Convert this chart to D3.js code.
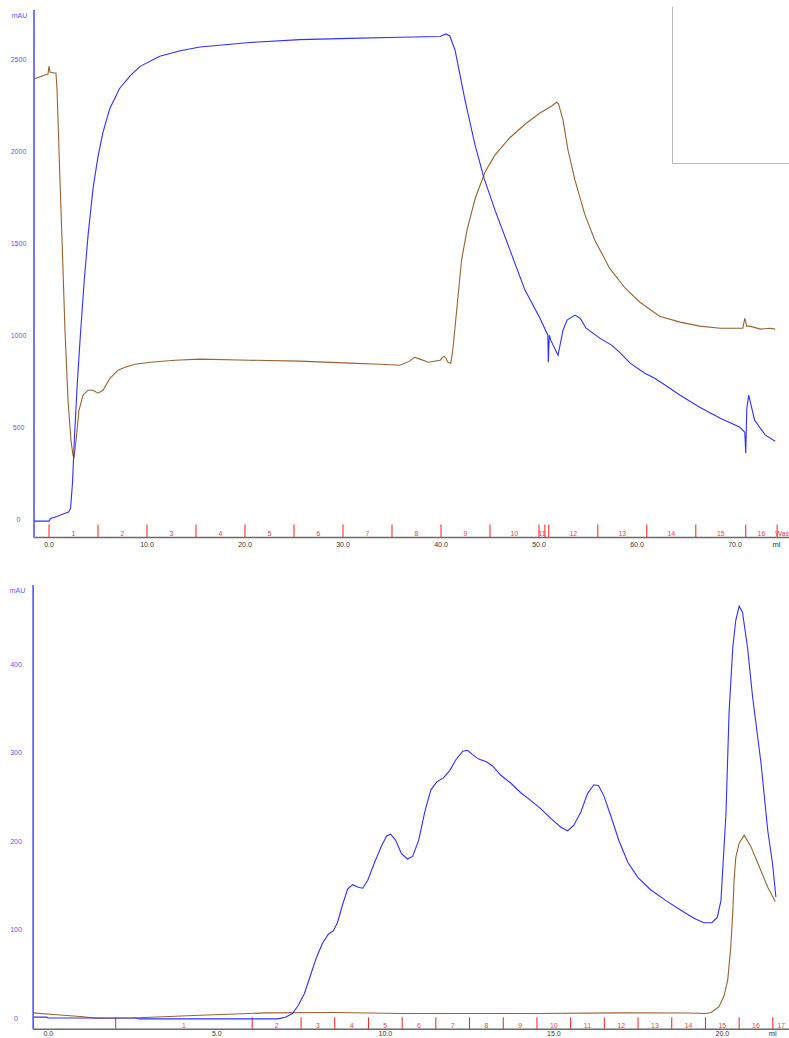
<!DOCTYPE html>
<html>
<head>
<meta charset="utf-8">
<script src="https://cdn.jsdelivr.net/npm/d3@7"></script>
<style>
  html, body { margin: 0; padding: 0; background: #fff; }
  svg { display: block; }
  text { font-family: "Liberation Sans", Arial, sans-serif; }
</style>
</head>
<body>
<svg id="chart" width="789" height="1038"></svg>
<script>
// ---- Run 1: full run, UV (blue) and conductivity-type trace (brown) ----
const topUv = [
  [-1.53,-10],[0,-10],[0.15,5],[0.8,15],[1.5,30],[2.0,40],[2.2,60],[2.4,200],[2.6,450],
  [2.9,750],[3.2,1000],[3.6,1300],[4.0,1550],[4.5,1800],[5.0,1970],[5.5,2100],[6.2,2230],
  [7.2,2340],[8.3,2410],[9.3,2460],[11.3,2515],[13.4,2545],[15.4,2565],[20.5,2590],
  [25.6,2605],[30.7,2612],[35.8,2618],[39.9,2622],[40.5,2636],[40.9,2625],[41.43,2549],
  [42.45,2277],[43.47,2033],[44.39,1853],[45.51,1679],[47.04,1462],[48.57,1245],[50.1,1092],
  [50.9,1000],[50.95,853],[51.05,1000],[51.2,973],[51.94,891],[52.45,1027],[52.86,1082],
  [53.67,1109],[54.2,1092],[54.8,1038],[56.2,984],[57.4,946],[58.2,908],[59.3,848],
  [60.8,793],[61.8,766],[62.9,728],[64.4,674],[66.4,609],[68.5,549],[70.5,500],[71.0,473],
  [71.1,359],[71.2,600],[71.4,674],[72.0,538],[73.1,457],[74.1,424]
];
const topCond = [
  [-1.53,2391],[-0.41,2413],[-0.1,2418],[0,2462],[0.1,2429],[0.51,2424],[0.71,2424],
  [0.82,2332],[0.92,2168],[1.12,1842],[1.33,1516],[1.63,1027],[1.94,647],[2.24,429],
  [2.45,348],[2.55,332],[2.76,429],[3.06,592],[3.47,674],[3.98,701],[4.49,701],[5.0,685],
  [5.51,701],[6.22,766],[7.04,810],[7.76,826],[8.78,842],[10.3,853],[12.86,864],[15.4,870],
  [20.5,864],[25.6,859],[30.7,848],[33.8,842],[35.8,837],[36.8,859],[37.3,880],[37.86,870],
  [38.7,853],[39.9,864],[40.3,886],[40.5,875],[40.7,853],[41.0,848],[41.2,918],[41.4,1027],
  [41.7,1190],[42.1,1408],[42.65,1571],[43.5,1745],[44.5,1886],[45.5,1978],[47.0,2071],
  [48.6,2147],[50.1,2207],[51.3,2245],[51.8,2266],[52.0,2255],[52.45,2168],[52.96,2005],
  [53.67,1842],[54.7,1652],[55.7,1516],[57.2,1364],[58.8,1255],[60.3,1179],[62.3,1103],
  [64.4,1071],[66.4,1049],[68.5,1038],[70.8,1038],[71.0,1092],[71.2,1049],[71.5,1049],
  [72.6,1033],[73.6,1038],[74.1,1033]
];
const topYTicks = [0, 500, 1000, 1500, 2000, 2500];
const topXTicks = [0, 10, 20, 30, 40, 50, 60, 70];
const topFracStarts = [0,5,10,15,20,25,30,35,40,45,50,50.6,51,56,61,66,71.1,74.3];
const topFracEnd = 75.9;
const topFracNames = ["1","2","3","4","5","6","7","8","9","10","11","","12","13","14","15","16","Waste"];

// ---- Run 2: elution detail ----
const botUv = [
  [-0.45,1.2],[-0.05,1.2],[0,0.3],[2.6,0.3],[2.7,-0.8],[6.8,-0.8],[7.04,1.1],[7.25,5.6],
  [7.42,14.7],[7.6,28],[7.78,48.6],[7.96,69],[8.14,85],[8.31,95],[8.46,99],[8.58,108],
  [8.73,128],[8.88,146],[9.03,151],[9.2,148],[9.33,147],[9.48,156],[9.68,176],[9.89,195],
  [10.04,206],[10.16,208],[10.31,201],[10.48,186],[10.66,180],[10.81,183],[10.99,201],
  [11.17,233],[11.35,258],[11.52,267],[11.73,272],[11.91,280],[12.09,292],[12.3,302],
  [12.44,303],[12.59,298],[12.77,293],[13.0,290],[13.19,285],[13.42,275],[13.72,266],
  [14.02,255],[14.32,246],[14.61,237],[14.91,226],[15.21,216],[15.41,212],[15.59,218],
  [15.8,233],[16.0,254],[16.19,264],[16.33,263],[16.48,252],[16.69,229],[16.93,201],
  [17.2,176],[17.5,159],[17.88,145],[18.33,133],[18.77,122],[19.16,113],[19.45,108],
  [19.69,108],[19.85,114],[19.96,133],[20.11,232],[20.2,345],[20.31,419],[20.4,450],
  [20.5,466],[20.6,459],[20.75,419],[20.9,363],[21.15,288],[21.35,212],[21.49,175],[21.59,137]
];
const botCond = [
  [-0.45,6],[0.15,4.2],[0.95,2.0],[1.45,0],[2.5,0.3],[4.5,3.4],[6.5,6],[8.5,6.4],[10.5,5.3],
  [14.5,5.3],[17.0,6],[19.0,5.8],[19.5,5.3],[19.67,6.5],[19.9,13],[20.05,25],[20.16,43],
  [20.25,80],[20.31,119],[20.35,156],[20.4,182],[20.5,198],[20.65,207],[20.85,194],
  [21.1,171],[21.35,148],[21.57,132]
];
const botYTicks = [0, 100, 200, 300, 400];
const botXTicks = [0, 5, 10, 15, 20];
const botFracStarts = [2.0,6.05,7.5,8.5,9.5,10.5,11.5,12.5,13.5,14.5,15.5,16.5,17.5,18.5,19.5,20.5,21.5];
const botFracEnd = 22.0;
const botFracNames = ["1","2","3","4","5","6","7","8","9","10","11","12","13","14","15","16","17"];

const svg = d3.select("#chart");
const COL_UV = "#2f2fff";
const COL_COND = "#9a6232";

function drawPanel(cfg) {
  const g = svg.append("g");
  const x = d3.scaleLinear().domain(cfg.xDomain).range(cfg.xRange);
  const y = d3.scaleLinear().domain(cfg.yDomain).range(cfg.yRange);
  const axisY = cfg.axisY; // pixel row of the x axis line
  const left = cfg.xRange[0] - (cfg.xRange[1] - cfg.xRange[0]) / (cfg.xDomain[1] - cfg.xDomain[0]) * (cfg.xDomain[0] - cfg.xStart);

  // fraction markers
  const fr = cfg.fracStarts.map((s, i) => ({
    s, e: i < cfg.fracStarts.length - 1 ? cfg.fracStarts[i + 1] : cfg.fracEnd, name: cfg.fracNames[i]
  }));
  g.selectAll("line.frac").data(fr).join("line").attr("class", "frac")
    .attr("x1", d => x(d.s)).attr("x2", d => x(d.s))
    .attr("y1", axisY - cfg.fracTick).attr("y2", axisY)
    .attr("stroke", "#ff1a1a").attr("stroke-width", 1);
  g.selectAll("text.frac").data(fr).join("text").attr("class", "frac")
    .attr("x", d => x((d.s + d.e) / 2)).attr("y", axisY - 1.5)
    .attr("text-anchor", "middle").attr("font-size", 7).attr("fill", "#ff3a3a")
    .text(d => d.name);

  // traces
  const line = d3.line().x(d => x(d[0])).y(d => y(d[1]));
  g.append("path").datum(cfg.cond).attr("d", line)
    .attr("fill", "none").attr("stroke", COL_COND).attr("stroke-width", 1.1);
  g.append("path").datum(cfg.uv).attr("d", line)
    .attr("fill", "none").attr("stroke", COL_UV).attr("stroke-width", 1.1);

  // y axis
  g.append("line").attr("x1", left).attr("x2", left)
    .attr("y1", cfg.yTop).attr("y2", axisY)
    .attr("stroke", "#4646ff").attr("stroke-width", 1.5);
  g.selectAll("text.yt").data(cfg.yTicks).join("text").attr("class", "yt")
    .attr("x", cfg.yLabelX).attr("y", d => y(d) + 2.5)
    .attr("text-anchor", "middle").attr("font-size", 7).attr("fill", "#5a5aff")
    .text(d => d);
  g.append("text").attr("x", cfg.unitX).attr("y", cfg.unitY)
    .attr("text-anchor", "middle").attr("font-size", 7).attr("fill", "#5a5aff")
    .text("mAU");

  // x axis
  g.append("line").attr("x1", left).attr("x2", 789)
    .attr("y1", axisY).attr("y2", axisY)
    .attr("stroke", "#6a6a6a").attr("stroke-width", 1.5);
  g.selectAll("text.xt").data(cfg.xTicks).join("text").attr("class", "xt")
    .attr("x", d => x(d)).attr("y", axisY + cfg.xLabelDy)
    .attr("text-anchor", "middle").attr("font-size", 7).attr("fill", "#333")
    .text(d => d3.format(".1f")(d));
  g.append("text").attr("x", cfg.mlX).attr("y", axisY + cfg.xLabelDy)
    .attr("text-anchor", "middle").attr("font-size", 7.5).attr("fill", "#333")
    .text("ml");
  return { x, y };
}

drawPanel({
  xDomain: [0, 10], xRange: [49, 147], xStart: -1.53,
  yDomain: [0, 2500], yRange: [519.3, 59],
  axisY: 537.5, yTop: 10, fracTick: 13, xLabelDy: 9,
  uv: topUv, cond: topCond,
  yTicks: topYTicks, xTicks: topXTicks,
  fracStarts: topFracStarts, fracEnd: topFracEnd, fracNames: topFracNames,
  yLabelX: 18.5, unitX: 19.5, unitY: 17.5, mlX: 776.5
});

drawPanel({
  xDomain: [0, 20], xRange: [48.3, 722.3], xStart: -0.45,
  yDomain: [0, 400], yRange: [1018.2, 664.5],
  axisY: 1029.3, yTop: 585, fracTick: 12, xLabelDy: 6.8,
  uv: botUv, cond: botCond,
  yTicks: botYTicks, xTicks: botXTicks,
  fracStarts: botFracStarts, fracEnd: botFracEnd, fracNames: botFracNames,
  yLabelX: 16, unitX: 17.5, unitY: 592.5, mlX: 772.7
});

// empty legend frame in the upper right corner
const frame = d3.path();
frame.moveTo(672.5, 7);
frame.lineTo(672.5, 163.5);
frame.lineTo(789, 163.5);
svg.append("path").attr("d", frame.toString())
  .attr("fill", "none").attr("stroke", "#b8b8b8").attr("stroke-width", 1);
</script>
</body>
</html>
